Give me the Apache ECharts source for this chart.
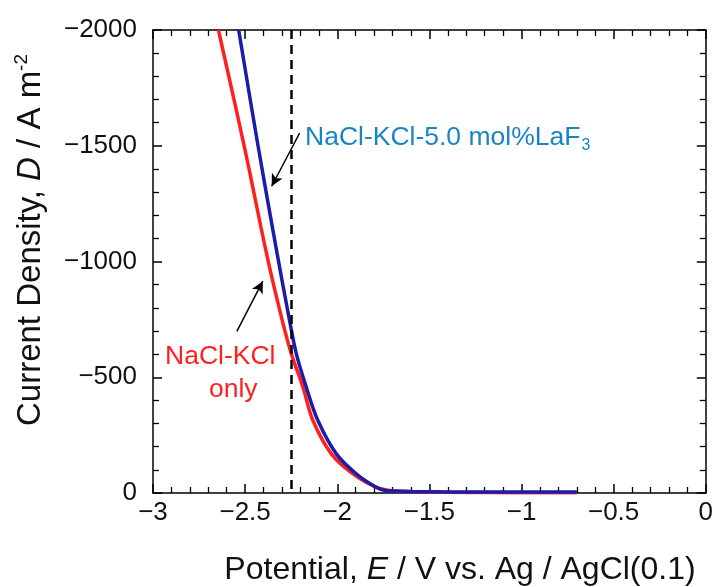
<!DOCTYPE html>
<html>
<head>
<meta charset="utf-8">
<script src="https://cdn.jsdelivr.net/npm/echarts@6/dist/echarts.min.js"></script>
<style>html,body{margin:0;padding:0;background:#fff;}#c{width:716px;height:587px;}</style>
</head>
<body>
<div id="c"></div>
<script>
// Potential E (V vs Ag/AgCl) and current density D (A m^-2)
const redE = [-2.645,-2.50,-2.38,-2.30,-2.249,-2.186,-2.132,-2.032,-1.915,-1.789,-1.717,-1.60,-1.40,-1.20,-0.90,-0.70];
const redD = [-2000,-1480,-1020,-750,-601,-457,-313,-169,-83,-25,-11,-5,-3,-2,-1,-1];
const blueE = [-2.535,-2.43,-2.33,-2.26,-2.222,-2.168,-2.105,-2.005,-1.897,-1.789,-1.735,-1.65,-1.60,-1.20,-0.70];
const blueD = [-2000,-1500,-1050,-750,-601,-457,-313,-169,-83,-25,-10,-8,-6,-4,-4];
const xTicks = [-3,-2.5,-2,-1.5,-1,-0.5,0];
const yTicks = [-2000,-1500,-1000,-500,0];
const dashedE = -2.25;
const blueArrow = [[-2.204,-1555],[-2.356,-1325]];
const redArrow = [[-2.545,-698],[-2.404,-915]];

const FONT = 'Liberation Sans';
const fmt = v => String(v).replace('-', '\u2212');
const tickCommon = {inside:true, length:9, lineStyle:{color:'#000', width:1.5}};
const minorCommon = {show:true, splitNumber:5, length:6, lineStyle:{color:'#000', width:1.3}};
const lineCommon = {show:true, onZero:false, lineStyle:{color:'#000', width:1.5}};

const chart = echarts.init(document.getElementById('c'), null, {renderer:'canvas'});
chart.setOption({
  animation:false,
  backgroundColor:'#fff',
  grid:{left:153, right:9, top:30, bottom:94},
  xAxis:[
    {type:'value', min:xTicks[0], max:xTicks[xTicks.length-1], interval:0.5, position:'bottom',
     axisLine:lineCommon, axisTick:tickCommon, minorTick:minorCommon, splitLine:{show:false},
     axisLabel:{formatter:fmt, fontFamily:FONT, fontSize:26, color:'#111', margin:7}},
    {type:'value', min:xTicks[0], max:xTicks[xTicks.length-1], interval:0.5, position:'top',
     axisLine:lineCommon, axisTick:tickCommon, minorTick:minorCommon, splitLine:{show:false},
     axisLabel:{show:false}}
  ],
  yAxis:[
    {type:'value', min:yTicks[0], max:yTicks[yTicks.length-1], interval:500, inverse:true, position:'left',
     axisLine:lineCommon, axisTick:tickCommon, minorTick:minorCommon, splitLine:{show:false},
     axisLabel:{formatter:fmt, fontFamily:FONT, fontSize:26, color:'#111', margin:16}},
    {type:'value', min:yTicks[0], max:yTicks[yTicks.length-1], interval:500, inverse:true, position:'right',
     axisLine:lineCommon, axisTick:tickCommon, minorTick:minorCommon, splitLine:{show:false},
     axisLabel:{show:false}}
  ],
  series:[
    {type:'line', name:'NaCl-KCl only', data:redE.map((e,i)=>[e,redD[i]]), showSymbol:false, smooth:0.35,
     lineStyle:{color:'#ff1f1f', width:3.5}, z:3,
     markLine:{silent:true, symbol:['none','arrow'], symbolSize:[9,12], label:{show:false},
       lineStyle:{color:'#000', width:1.5, type:'solid'},
       data:[
         [{coord:blueArrow[0]},{coord:blueArrow[1]}],
         [{coord:redArrow[0]},{coord:redArrow[1]}]
       ]}},
    {type:'line', name:'NaCl-KCl-5.0 mol%LaF3', data:blueE.map((e,i)=>[e,blueD[i]]), showSymbol:false, smooth:0.35,
     lineStyle:{color:'#1c1caa', width:3.5}, z:4,
     markLine:{silent:true, symbol:['none','none'], label:{show:false},
       lineStyle:{color:'#000', width:2.5, type:[9,6]},
       data:[{xAxis:dashedE}]}}
  ],
  graphic:[
    {type:'text', left:305, top:123, style:{
      text:'{a|NaCl-KCl-5.0 mol%LaF}{s|3}',
      rich:{a:{fontFamily:FONT, fontSize:26.5, fill:'#1a84c2', lineHeight:32},
            s:{fontFamily:FONT, fontSize:16, fill:'#1a84c2', lineHeight:32, verticalAlign:'bottom', padding:[15,0,0,1]}}}},
    {type:'text', left:165, top:343, style:{text:'NaCl-KCl', fontFamily:FONT, fontSize:26.5, fill:'#ff1f1f'}},
    {type:'text', left:209, top:376, style:{text:'only', fontFamily:FONT, fontSize:26.5, fill:'#ff1f1f'}},
    {type:'text', x:460, y:570, style:{
      text:'{a|Potential, }{i|E}{a| / V vs. Ag / AgCl(0.1)}', align:'center', verticalAlign:'middle',
      rich:{a:{fontFamily:FONT, fontSize:32, fill:'#111'}, i:{fontFamily:FONT, fontSize:32, fontStyle:'italic', fill:'#111'}}}},
    {type:'text', x:31, y:240, rotation:Math.PI/2, style:{
      text:'{a|Current Density, }{i|D}{a| / A m}{s|-2}', align:'center', verticalAlign:'middle',
      rich:{a:{fontFamily:FONT, fontSize:33, fill:'#111', lineHeight:37}, i:{fontFamily:FONT, fontSize:33, fontStyle:'italic', fill:'#111', lineHeight:37},
            s:{fontFamily:FONT, fontSize:19, fill:'#111', lineHeight:37, verticalAlign:'top', padding:[0,0,15,0]}}}}
  ]
});
</script>
</body>
</html>
